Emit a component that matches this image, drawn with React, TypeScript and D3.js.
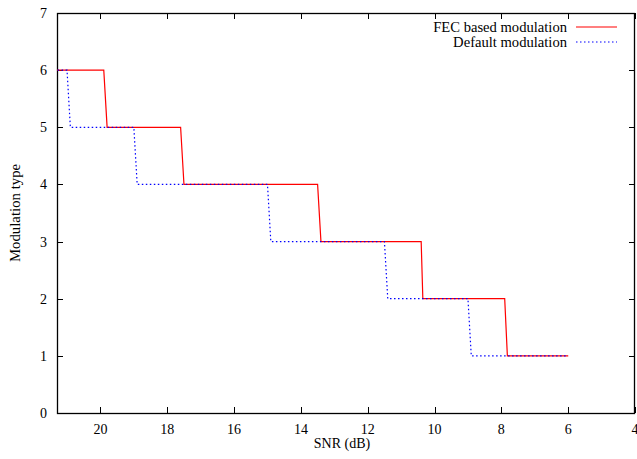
import React, { useRef, useEffect } from "react";
import * as d3 from "d3";

// step curves: [SNR dB, modulation type]
const fecSnr = [22, 19.9, 19.8, 17.6, 17.5, 13.5, 13.4, 10.4, 10.35, 7.9, 7.82, 6.0];
const fecMod = [6, 6, 5, 5, 4, 4, 3, 3, 2, 2, 1, 1];
const defSnr = [22, 21.0, 20.9, 19.0, 18.9, 15.0, 14.9, 11.5, 11.4, 9.0, 8.9, 6.0];
const defMod = [6, 6, 5, 5, 4, 4, 3, 3, 2, 2, 1, 1];
const xTicks = [20, 18, 16, 14, 12, 10, 8, 6, 4];
const yTicks = [0, 1, 2, 3, 4, 5, 6, 7];
const seriesNames = ["FEC based modulation", "Default modulation"];

const W = 637;
const H = 459;
const FONT = "'Liberation Serif', 'DejaVu Serif', serif";

function App() {
  const svgRef = useRef<SVGSVGElement>(null);

  useEffect(() => {
    const svg = d3.select(svgRef.current);
    svg.selectAll("*").remove();

    const left = 57, right = 635, top = 13, bottom = 413;
    const x = d3.scaleLinear().domain([21.3, 4]).range([left, right]);
    const y = d3.scaleLinear().domain([0, 7]).range([bottom, top]);

    svg.append("defs").append("clipPath").attr("id", "plotclip")
      .append("rect").attr("x", left).attr("y", top)
      .attr("width", right - left).attr("height", bottom - top);

    // ticks (inward, mirrored)
    const g = svg.append("g").attr("stroke", "#000").attr("stroke-width", 1);
    xTicks.forEach((t) => {
      const px = Math.round(x(t)) + 0.5;
      g.append("line").attr("x1", px).attr("x2", px).attr("y1", bottom).attr("y2", bottom - 6);
      g.append("line").attr("x1", px).attr("x2", px).attr("y1", top).attr("y2", top + 6);
    });
    yTicks.forEach((t) => {
      const py = Math.round(y(t)) + 0.5;
      g.append("line").attr("x1", left).attr("x2", left + 6).attr("y1", py).attr("y2", py);
      g.append("line").attr("x1", right).attr("x2", right - 6).attr("y1", py).attr("y2", py);
    });

    svg.append("rect").attr("x", left + 0.5).attr("y", top + 0.5)
      .attr("width", right - left - 1).attr("height", bottom - top)
      .attr("fill", "none").attr("stroke", "#000").attr("stroke-width", 1.3);

    const txt = svg.append("g").attr("font-family", FONT).attr("font-size", 14).attr("fill", "#000");
    xTicks.forEach((t) => {
      txt.append("text").attr("x", x(t)).attr("y", 434).attr("text-anchor", "middle").text(t);
    });
    yTicks.forEach((t) => {
      txt.append("text").attr("x", 47).attr("y", y(t) + 5).attr("text-anchor", "end").text(t);
    });
    txt.append("text").attr("x", 342).attr("y", 448).attr("text-anchor", "middle").text("SNR (dB)");
    txt.append("text").attr("transform", `translate(20,${(top + bottom) / 2}) rotate(-90)`)
      .attr("text-anchor", "middle").attr("font-size", 14.8).text("Modulation type");

    const fec = fecSnr.map((s, i) => [x(s), y(fecMod[i])] as [number, number]);
    const def = defSnr.map((s, i) => [x(s), y(defMod[i])] as [number, number]);

    const plot = svg.append("g").attr("clip-path", "url(#plotclip)");
    plot.append("path").attr("d", d3.line()(fec)).attr("fill", "none")
      .attr("stroke", "#ff0000").attr("stroke-width", 1.2);
    plot.append("path").attr("d", d3.line()(def)).attr("fill", "none")
      .attr("stroke", "#0000ff").attr("stroke-width", 1.2).attr("stroke-dasharray", "1.5,2.5");

    // legend
    const lg = svg.append("g");
    [0, 1].forEach((i) => {
      const ly = 27 + i * 15;
      lg.append("text").attr("x", 567).attr("y", ly + 5).attr("text-anchor", "end")
        .attr("font-family", FONT).attr("font-size", 14.6).text(seriesNames[i]);
      lg.append("line").attr("x1", 576).attr("x2", 617).attr("y1", ly).attr("y2", ly)
        .attr("stroke", i === 0 ? "#ff0000" : "#0000ff").attr("stroke-width", 1.2)
        .attr("stroke-dasharray", i === 0 ? null : "1.5,2.5");
    });
  }, []);

  return <svg ref={svgRef} width={W} height={H} style={{ position: "absolute", left: 0, top: 0, background: "#fff" }} />;
}

export default App;
